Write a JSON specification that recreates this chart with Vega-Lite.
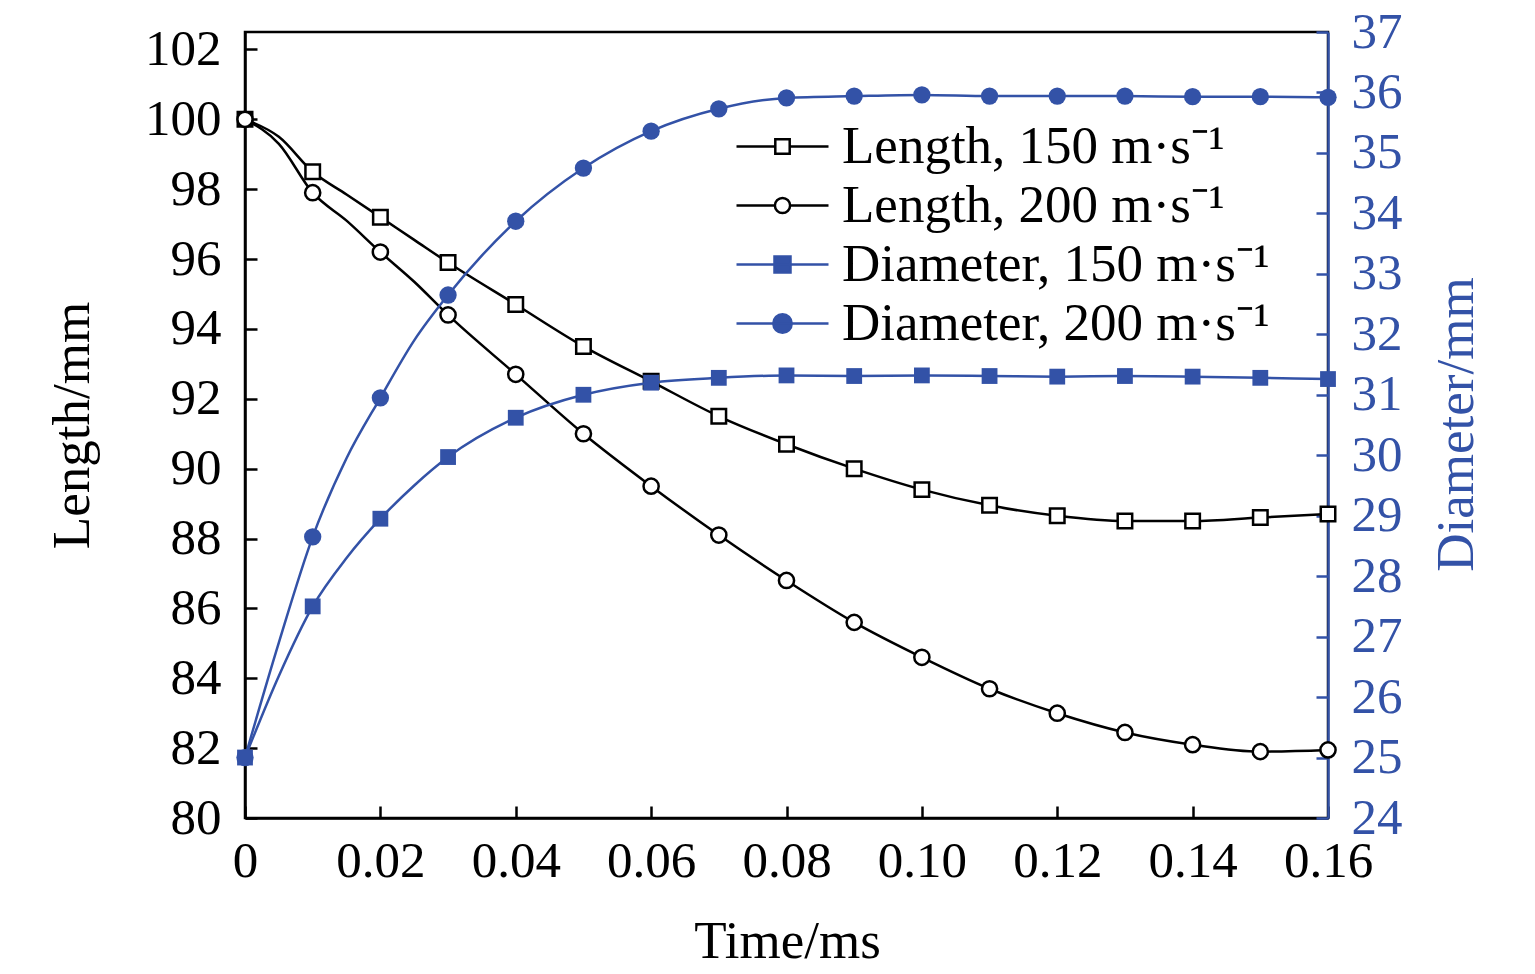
{
  "$schema": "https://vega.github.io/schema/vega-lite/v6.json",
  "autosize": {"type": "none"},
  "padding": {"left": 245, "top": 32, "right": 207, "bottom": 156},
  "width": 1083,
  "height": 786,
  "background": "white",
  "config": {
    "font": "Liberation Serif",
    "view": {"stroke": "black", "strokeWidth": 2.5},
    "axis": {
      "grid": false,
      "labelFont": "Liberation Serif",
      "labelFontSize": 51,
      "titleFont": "Liberation Serif",
      "titleFontSize": 53,
      "titleFontWeight": "normal",
      "domainWidth": 2.5,
      "tickWidth": 2.5,
      "tickSize": -12
    }
  },
  "datasets": {
    "curves": [
      {"t": 0, "quantity": "Length", "speed": 150, "value": 100.0},
      {"t": 0.005, "quantity": "Length", "speed": 150, "value": 99.5},
      {"t": 0.01, "quantity": "Length", "speed": 150, "value": 98.5},
      {"t": 0.015, "quantity": "Length", "speed": 150, "value": 97.85},
      {"t": 0.02, "quantity": "Length", "speed": 150, "value": 97.2},
      {"t": 0.025, "quantity": "Length", "speed": 150, "value": 96.55},
      {"t": 0.03, "quantity": "Length", "speed": 150, "value": 95.9},
      {"t": 0.04, "quantity": "Length", "speed": 150, "value": 94.7},
      {"t": 0.05, "quantity": "Length", "speed": 150, "value": 93.5},
      {"t": 0.06, "quantity": "Length", "speed": 150, "value": 92.5},
      {"t": 0.07, "quantity": "Length", "speed": 150, "value": 91.5},
      {"t": 0.08, "quantity": "Length", "speed": 150, "value": 90.7},
      {"t": 0.09, "quantity": "Length", "speed": 150, "value": 90.0},
      {"t": 0.10, "quantity": "Length", "speed": 150, "value": 89.4},
      {"t": 0.11, "quantity": "Length", "speed": 150, "value": 88.95},
      {"t": 0.12, "quantity": "Length", "speed": 150, "value": 88.65},
      {"t": 0.13, "quantity": "Length", "speed": 150, "value": 88.5},
      {"t": 0.14, "quantity": "Length", "speed": 150, "value": 88.5},
      {"t": 0.15, "quantity": "Length", "speed": 150, "value": 88.6},
      {"t": 0.16, "quantity": "Length", "speed": 150, "value": 88.7},
      {"t": 0, "quantity": "Length", "speed": 200, "value": 100.0},
      {"t": 0.005, "quantity": "Length", "speed": 200, "value": 99.3},
      {"t": 0.01, "quantity": "Length", "speed": 200, "value": 97.9},
      {"t": 0.015, "quantity": "Length", "speed": 200, "value": 97.1},
      {"t": 0.02, "quantity": "Length", "speed": 200, "value": 96.2},
      {"t": 0.025, "quantity": "Length", "speed": 200, "value": 95.35},
      {"t": 0.03, "quantity": "Length", "speed": 200, "value": 94.4},
      {"t": 0.04, "quantity": "Length", "speed": 200, "value": 92.7},
      {"t": 0.05, "quantity": "Length", "speed": 200, "value": 91.0},
      {"t": 0.06, "quantity": "Length", "speed": 200, "value": 89.5},
      {"t": 0.07, "quantity": "Length", "speed": 200, "value": 88.1},
      {"t": 0.08, "quantity": "Length", "speed": 200, "value": 86.8},
      {"t": 0.09, "quantity": "Length", "speed": 200, "value": 85.6},
      {"t": 0.10, "quantity": "Length", "speed": 200, "value": 84.6},
      {"t": 0.11, "quantity": "Length", "speed": 200, "value": 83.7},
      {"t": 0.12, "quantity": "Length", "speed": 200, "value": 83.0},
      {"t": 0.13, "quantity": "Length", "speed": 200, "value": 82.45},
      {"t": 0.14, "quantity": "Length", "speed": 200, "value": 82.1},
      {"t": 0.15, "quantity": "Length", "speed": 200, "value": 81.9},
      {"t": 0.16, "quantity": "Length", "speed": 200, "value": 81.95},
      {"t": 0, "quantity": "Diameter", "speed": 150, "value": 25.0},
      {"t": 0.005, "quantity": "Diameter", "speed": 150, "value": 26.35},
      {"t": 0.01, "quantity": "Diameter", "speed": 150, "value": 27.5},
      {"t": 0.015, "quantity": "Diameter", "speed": 150, "value": 28.3},
      {"t": 0.02, "quantity": "Diameter", "speed": 150, "value": 28.95},
      {"t": 0.025, "quantity": "Diameter", "speed": 150, "value": 29.5},
      {"t": 0.03, "quantity": "Diameter", "speed": 150, "value": 29.97},
      {"t": 0.04, "quantity": "Diameter", "speed": 150, "value": 30.62},
      {"t": 0.05, "quantity": "Diameter", "speed": 150, "value": 31.0},
      {"t": 0.06, "quantity": "Diameter", "speed": 150, "value": 31.2},
      {"t": 0.07, "quantity": "Diameter", "speed": 150, "value": 31.28},
      {"t": 0.08, "quantity": "Diameter", "speed": 150, "value": 31.32},
      {"t": 0.09, "quantity": "Diameter", "speed": 150, "value": 31.31},
      {"t": 0.10, "quantity": "Diameter", "speed": 150, "value": 31.32},
      {"t": 0.11, "quantity": "Diameter", "speed": 150, "value": 31.31},
      {"t": 0.12, "quantity": "Diameter", "speed": 150, "value": 31.3},
      {"t": 0.13, "quantity": "Diameter", "speed": 150, "value": 31.31},
      {"t": 0.14, "quantity": "Diameter", "speed": 150, "value": 31.3},
      {"t": 0.15, "quantity": "Diameter", "speed": 150, "value": 31.28},
      {"t": 0.16, "quantity": "Diameter", "speed": 150, "value": 31.26},
      {"t": 0, "quantity": "Diameter", "speed": 200, "value": 25.0},
      {"t": 0.005, "quantity": "Diameter", "speed": 200, "value": 26.9},
      {"t": 0.01, "quantity": "Diameter", "speed": 200, "value": 28.65},
      {"t": 0.015, "quantity": "Diameter", "speed": 200, "value": 29.95},
      {"t": 0.02, "quantity": "Diameter", "speed": 200, "value": 30.95},
      {"t": 0.025, "quantity": "Diameter", "speed": 200, "value": 31.9},
      {"t": 0.03, "quantity": "Diameter", "speed": 200, "value": 32.65},
      {"t": 0.04, "quantity": "Diameter", "speed": 200, "value": 33.87},
      {"t": 0.05, "quantity": "Diameter", "speed": 200, "value": 34.75},
      {"t": 0.06, "quantity": "Diameter", "speed": 200, "value": 35.36},
      {"t": 0.07, "quantity": "Diameter", "speed": 200, "value": 35.73},
      {"t": 0.08, "quantity": "Diameter", "speed": 200, "value": 35.91},
      {"t": 0.09, "quantity": "Diameter", "speed": 200, "value": 35.94},
      {"t": 0.10, "quantity": "Diameter", "speed": 200, "value": 35.96},
      {"t": 0.11, "quantity": "Diameter", "speed": 200, "value": 35.94},
      {"t": 0.12, "quantity": "Diameter", "speed": 200, "value": 35.94},
      {"t": 0.13, "quantity": "Diameter", "speed": 200, "value": 35.94},
      {"t": 0.14, "quantity": "Diameter", "speed": 200, "value": 35.93},
      {"t": 0.15, "quantity": "Diameter", "speed": 200, "value": 35.93},
      {"t": 0.16, "quantity": "Diameter", "speed": 200, "value": 35.92}
    ],
    "legend": [
      {"series": "Length, 150 m·s⁻¹"},
      {"series": "Length, 200 m·s⁻¹"},
      {"series": "Diameter, 150 m·s⁻¹"},
      {"series": "Diameter, 200 m·s⁻¹"}
    ]
  },
  "layer": [
    {
      "data": {"name": "curves"},
      "transform": [{"filter": "datum.quantity == 'Length'"}],
      "encoding": {
        "x": {
          "field": "t", "type": "quantitative",
          "scale": {"domain": [0, 0.16], "nice": false, "zero": false},
          "axis": {
            "orient": "bottom",
            "values": [0, 0.02, 0.04, 0.06, 0.08, 0.10, 0.12, 0.14, 0.16],
            "labelExpr": "datum.value == 0 ? '0' : format(datum.value, '.2f')",
            "labelPadding": 30,
            "labelFlush": false,
            "domainColor": "black", "tickColor": "black", "labelColor": "black",
            "title": "Time/ms", "titleColor": "black",
            "titleX": 542, "titleY": 139, "titleBaseline": "alphabetic"
          }
        },
        "y": {
          "field": "value", "type": "quantitative",
          "scale": {"domain": [80, 102.5], "nice": false, "zero": false},
          "axis": {
            "orient": "left",
            "values": [80, 82, 84, 86, 88, 90, 92, 94, 96, 98, 100, 102],
            "labelPadding": 36,
            "domainColor": "black", "tickColor": "black", "labelColor": "black",
            "title": "Length/mm", "titleColor": "black",
            "titleX": -173, "titleY": 393, "titleAngle": 270, "titleBaseline": "middle"
          }
        }
      },
      "layer": [
        {
          "mark": {"type": "line", "color": "black", "strokeWidth": 2.5, "interpolate": "monotone"},
          "encoding": {"detail": {"field": "speed"}}
        },
        {
          "transform": [{"filter": "datum.speed == 150 && abs(datum.t*100 - round(datum.t*100)) < 0.001"}],
          "mark": {"type": "square", "fill": "white", "stroke": "black", "strokeWidth": 2.5, "size": 210, "opacity": 1}
        },
        {
          "transform": [{"filter": "datum.speed == 200 && abs(datum.t*100 - round(datum.t*100)) < 0.001"}],
          "mark": {"type": "circle", "fill": "white", "stroke": "black", "strokeWidth": 2.5, "size": 230, "opacity": 1}
        }
      ]
    },
    {
      "data": {"name": "curves"},
      "transform": [{"filter": "datum.quantity == 'Diameter'"}],
      "encoding": {
        "x": {"field": "t", "type": "quantitative", "scale": {"domain": [0, 0.16], "nice": false, "zero": false}},
        "y": {
          "field": "value", "type": "quantitative",
          "scale": {"domain": [24, 37], "nice": false, "zero": false},
          "axis": {
            "orient": "right",
            "values": [24, 25, 26, 27, 28, 29, 30, 31, 32, 33, 34, 35, 36, 37],
            "labelPadding": 35,
            "domainColor": "#3352a7", "tickColor": "#3352a7", "labelColor": "#3352a7",
            "title": "Diameter/mm", "titleColor": "#3352a7",
            "titleX": 128, "titleY": 392, "titleAngle": 270, "titleBaseline": "middle"
          }
        }
      },
      "layer": [
        {
          "mark": {"type": "line", "color": "#3352a7", "strokeWidth": 2.5, "interpolate": "monotone"},
          "encoding": {"detail": {"field": "speed"}}
        },
        {
          "transform": [{"filter": "datum.speed == 150 && abs(datum.t*100 - round(datum.t*100)) < 0.001"}],
          "mark": {"type": "square", "color": "#3352a7", "size": 250, "opacity": 1}
        },
        {
          "transform": [{"filter": "datum.speed == 200 && abs(datum.t*100 - round(datum.t*100)) < 0.001"}],
          "mark": {"type": "circle", "color": "#3352a7", "size": 300, "opacity": 1}
        }
      ]
    },
    {
      "data": {"name": "legend"},
      "mark": {"type": "point", "filled": true, "opacity": 0, "size": 1600},
      "encoding": {
        "shape": {
          "field": "series", "type": "nominal",
          "scale": {
            "domain": ["Length, 150 m·s⁻¹", "Length, 200 m·s⁻¹", "Diameter, 150 m·s⁻¹", "Diameter, 200 m·s⁻¹"],
            "range": [
              "M-2.3,0H-0.36M0.36,0H2.3M-0.36,-0.36H0.36V0.36H-0.36Z",
              "M-2.3,0H-0.38M0.38,0H2.3M0.38,0A0.38,0.38 0 1,1 -0.38,0A0.38,0.38 0 1,1 0.38,0Z",
              "M-2.3,0H2.3M-0.4,-0.4H0.4V0.4H-0.4Z",
              "M-2.3,0H2.3M0.46,0A0.46,0.46 0 1,1 -0.46,0A0.46,0.46 0 1,1 0.46,0Z"
            ]
          },
          "legend": {
            "title": null,
            "orient": "none",
            "legendX": 511,
            "legendY": 88,
            "symbolSize": 1600,
            "symbolStrokeWidth": 2.5,
            "symbolOpacity": 1,
            "labelFont": "Liberation Serif",
            "labelFontSize": 53,
            "labelColor": "black",
            "labelLimit": 1000,
            "labelOffset": 33,
            "rowPadding": 5,
            "padding": 0
          }
        },
        "fill": {
          "field": "series", "type": "nominal",
          "scale": {
            "domain": ["Length, 150 m·s⁻¹", "Length, 200 m·s⁻¹", "Diameter, 150 m·s⁻¹", "Diameter, 200 m·s⁻¹"],
            "range": ["white", "white", "#3352a7", "#3352a7"]
          }
        },
        "stroke": {
          "field": "series", "type": "nominal",
          "scale": {
            "domain": ["Length, 150 m·s⁻¹", "Length, 200 m·s⁻¹", "Diameter, 150 m·s⁻¹", "Diameter, 200 m·s⁻¹"],
            "range": ["black", "black", "#3352a7", "#3352a7"]
          }
        }
      }
    }
  ],
  "resolve": {"scale": {"y": "independent"}}
}
